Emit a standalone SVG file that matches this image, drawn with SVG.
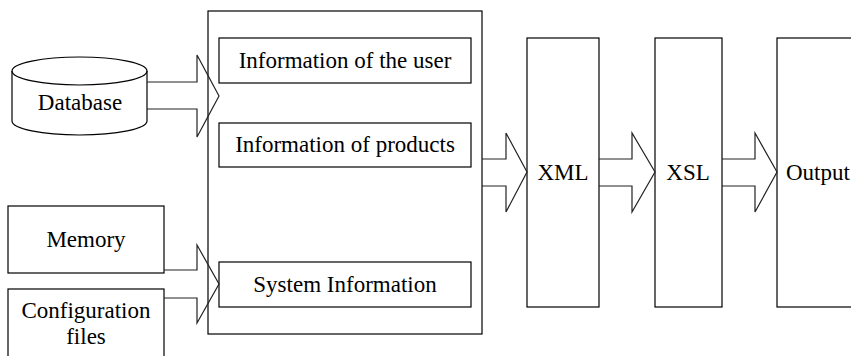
<svg xmlns="http://www.w3.org/2000/svg" width="851" height="356" viewBox="0 0 851 356">
<style>
.box{fill:none;stroke:#000;stroke-width:1.2}
.arr{fill:none;stroke:#222;stroke-width:1.2;stroke-linejoin:miter}
.t{font-family:'Liberation Serif','DejaVu Serif',serif;font-size:23px;fill:#000}
.c{text-anchor:middle}
</style>
<rect width="851" height="356" fill="#fff"/>
<g id="database">
<path class="box" d="M12,71 V121 A67.5,14 0 0 0 147,121 V71"/>
<ellipse class="box" cx="79.5" cy="71" rx="67.5" ry="14"/>
<text class="t c" x="80" y="110" font-family="Liberation Serif, serif">Database</text>
</g>
<g id="memory">
<rect class="box" x="8" y="206" width="156" height="67"/>
<text class="t c" x="86" y="247" font-family="Liberation Serif, serif">Memory</text>
</g>
<g id="config">
<rect class="box" x="8" y="289" width="156" height="80"/>
<text class="t c" x="86" y="318" font-family="Liberation Serif, serif">Configuration</text>
<text class="t c" x="86" y="344" font-family="Liberation Serif, serif">files</text>
</g>
<g id="container">
<rect class="box" x="208" y="11" width="274" height="323"/>
</g>
<g id="user-info">
<rect class="box" x="219" y="38" width="252" height="45"/>
<text class="t c" x="345" y="68" font-family="Liberation Serif, serif">Information of the user</text>
</g>
<g id="product-info">
<rect class="box" x="219" y="123" width="252" height="44"/>
<text class="t c" x="345" y="152" font-family="Liberation Serif, serif">Information of products</text>
</g>
<g id="system-info">
<rect class="box" x="219" y="262" width="252" height="45"/>
<text class="t c" x="345" y="292" font-family="Liberation Serif, serif">System Information</text>
</g>
<g id="xml">
<rect class="box" x="527" y="38" width="72" height="269"/>
<text class="t c" x="563" y="180" font-family="Liberation Serif, serif">XML</text>
</g>
<g id="xsl">
<rect class="box" x="655" y="38" width="67" height="269"/>
<text class="t c" x="688" y="180" font-family="Liberation Serif, serif">XSL</text>
</g>
<g id="output">
<rect class="box" x="777" y="38" width="90" height="269"/>
<text class="t" x="786" y="180" font-family="Liberation Serif, serif">Output</text>
</g>
<g id="connectors">
<path class="arr" d="M147,82 H197 V55 L219,96 L197,137 V109 H147"/>
<path class="arr" d="M164,270 H197 V245 L219,284 L197,323 V298 H164"/>
<path class="arr" d="M482,159 H506 V133 L527,172 L506,212 V186 H482"/>
<path class="arr" d="M599,159 H632 V133 L655,172 L632,212 V186 H599"/>
<path class="arr" d="M722,159 H755 V133 L777,172 L755,212 V186 H722"/>
</g>
</svg>
